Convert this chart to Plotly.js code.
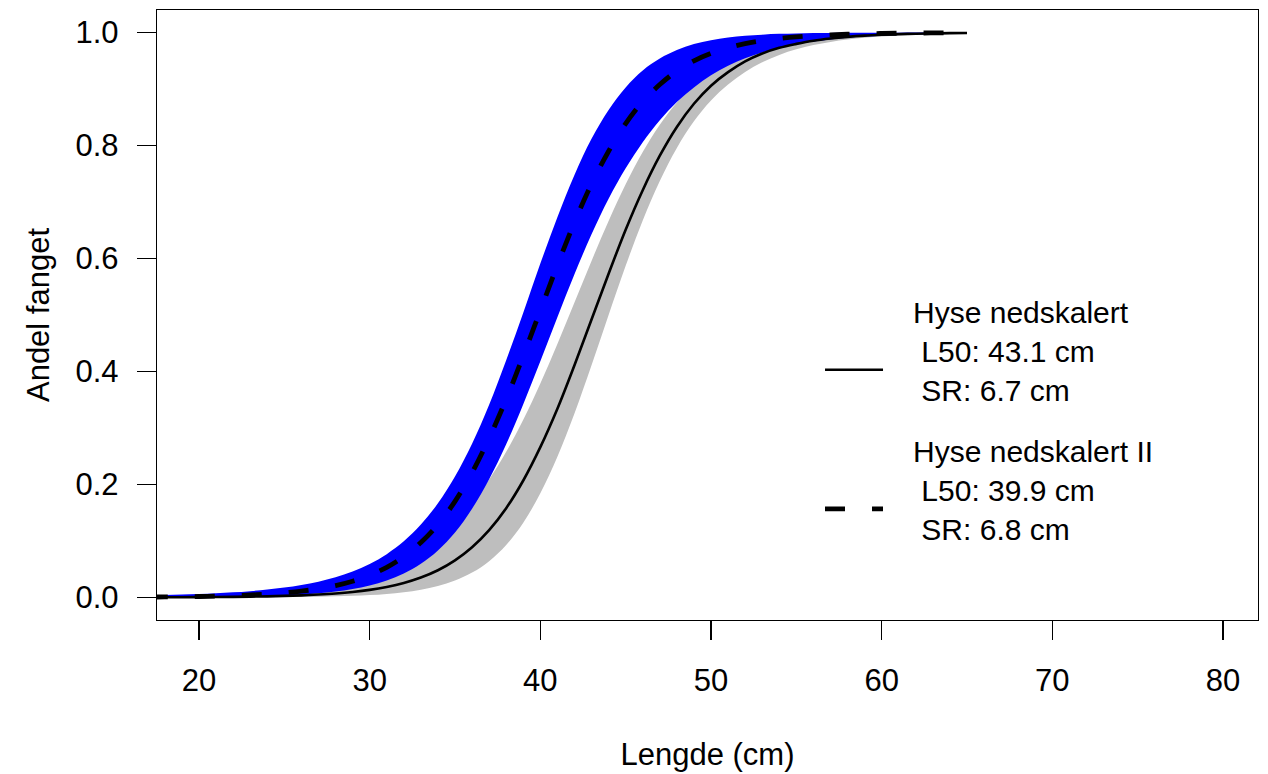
<!DOCTYPE html>
<html>
<head>
<meta charset="utf-8">
<script src="https://cdn.plot.ly/plotly-3.0.1.min.js"></script>
<style>html,body{margin:0;padding:0;background:#fff;}#chart{width:1268px;height:774px;}</style>
</head>
<body>
<div id="chart"></div>
<script>
// Length classes (cm)
var lengths = [17,18,19,20,21,22,23,24,25,26,27,28,29,30,31,32,33,34,35,36,37,38,39,40,41,42,43,44,45,46,47,48,49,50,51,52,53,54,55,56,57,58,59,60,61,62,63,64,65];

// Hyse nedskalert (solid) and its grey band
var solidCurve = [0.00019,0.00027,0.00037,0.00051,0.00071,0.00099,0.00137,0.0019,0.00263,0.00366,0.00507,0.00702,0.00972,0.0134,0.0186,0.0256,0.0352,0.0481,0.0656,0.0888,0.1192,0.158,0.207,0.266,0.334,0.411,0.492,0.573,0.651,0.721,0.782,0.833,0.874,0.906,0.930,0.949,0.963,0.973,0.980,0.9857,0.9896,0.9925,0.9946,0.9961,0.9972,0.9980,0.9985,0.9990,0.9992];
var grayUpper = [0.00313,0.00373,0.00446,0.00536,0.00646,0.00783,0.00954,0.0117,0.0143,0.0177,0.0219,0.0273,0.0341,0.0427,0.0536,0.0674,0.0848,0.1068,0.1341,0.1678,0.2089,0.2577,0.3146,0.3787,0.4487,0.5222,0.5958,0.6664,0.7313,0.7884,0.8367,0.8763,0.9078,0.9322,0.9507,0.9646,0.9748,0.9821,0.9875,0.9913,0.9939,0.9958,0.9971,0.9980,0.9987,0.9991,0.9994,0.9996,0.9997];
var grayLower = [0.000023,0.000034,0.000051,0.000076,0.000114,0.00017,0.000253,0.000378,0.000564,0.00084,0.00125,0.00187,0.00279,0.00416,0.00618,0.00919,0.0137,0.0202,0.0299,0.0439,0.0642,0.0928,0.1324,0.1842,0.2490,0.3256,0.4110,0.5000,0.5871,0.6673,0.7373,0.7958,0.8429,0.8798,0.9080,0.9302,0.9474,0.9605,0.9704,0.9779,0.9835,0.9877,0.9909,0.9932,0.9950,0.9963,0.9972,0.9980,0.9985];

// Hyse nedskalert II (dashed) and its blue band
var dashedCurve = [0.00061,0.00085,0.00117,0.00161,0.00222,0.00307,0.00423,0.00583,0.00804,0.0111,0.0152,0.0209,0.0287,0.0392,0.0533,0.0722,0.0971,0.129,0.170,0.221,0.282,0.351,0.428,0.508,0.588,0.664,0.732,0.790,0.839,0.878,0.908,0.932,0.950,0.9632,0.9731,0.9804,0.9857,0.9896,0.9925,0.9945,0.9960,0.9971,0.9979,0.9985,0.9989,0.9992,0.9994,0.9996,0.9997];
var blueUpper = [0.00352,0.00419,0.00501,0.00604,0.00736,0.00902,0.0111,0.0139,0.0174,0.0220,0.0279,0.0357,0.0458,0.0590,0.0766,0.0993,0.1289,0.1666,0.214,0.272,0.341,0.420,0.504,0.591,0.673,0.748,0.812,0.863,0.903,0.933,0.954,0.969,0.9796,0.9866,0.9913,0.9944,0.9964,0.9978,0.9986,0.9991,0.9995,0.9997,0.9998,0.9999,0.9999,1.0,1.0,1.0,1.0];
var blueLower = [0.0002,0.000286,0.00041,0.000586,0.00084,0.0012,0.00172,0.00247,0.00354,0.00506,0.00724,0.0103,0.0148,0.0210,0.0299,0.0423,0.0595,0.0831,0.1149,0.157,0.209,0.271,0.342,0.418,0.496,0.572,0.643,0.706,0.760,0.806,0.845,0.877,0.903,0.9244,0.9413,0.9545,0.9649,0.9730,0.9792,0.9841,0.9878,0.9907,0.9929,0.9945,0.9958,0.9968,0.9976,0.9981,0.9986];

var xTicks = [20,30,40,50,60,70,80];
var yTicks = [0,0.2,0.4,0.6,0.8,1.0];
var yTickLabels = ['0.0','0.2','0.4','0.6','0.8','1.0'];
var NB = '\u00a0';
var legendNames = [
  NB+NB+NB+'Hyse nedskalert<br>'+NB+NB+NB+NB+'L50: 43.1 cm<br>'+NB+NB+NB+NB+'SR: 6.7 cm<br>'+NB,
  NB+NB+NB+'Hyse nedskalert II<br>'+NB+NB+NB+NB+'L50: 39.9 cm<br>'+NB+NB+NB+NB+'SR: 6.8 cm<br>'+NB
];

var FONT = 'Liberation Sans, Arial, Helvetica, sans-serif';
var FS = 31;
var LFS = 30;

var traces = [
  {x: lengths, y: grayLower, mode: 'lines', line: {width: 0, shape: 'spline'}, showlegend: false, hoverinfo: 'skip'},
  {x: lengths, y: grayUpper, mode: 'lines', line: {width: 0, shape: 'spline'}, fill: 'tonexty', fillcolor: '#BEBEBE', showlegend: false, hoverinfo: 'skip'},
  {x: lengths, y: blueLower, mode: 'lines', line: {width: 0, shape: 'spline'}, showlegend: false, hoverinfo: 'skip'},
  {x: lengths, y: blueUpper, mode: 'lines', line: {width: 0, shape: 'spline'}, fill: 'tonexty', fillcolor: '#0000FF', showlegend: false, hoverinfo: 'skip'},
  {x: lengths, y: solidCurve, mode: 'lines', name: legendNames[0], legend: 'legend', line: {color: '#000', width: 2.6, shape: 'spline'}},
  {x: lengths, y: dashedCurve, mode: 'lines', name: legendNames[1], legend: 'legend2', line: {color: '#000', width: 4.8, dash: '20px,27px', shape: 'spline'}}
];

function legendBox(yPos) {
  return {x: 0.6022, y: yPos, xanchor: 'left', yanchor: 'top', bgcolor: 'rgba(0,0,0,0)', borderwidth: 0,
          font: {family: FONT, size: LFS, color: '#000'}, itemwidth: 58, valign: 'middle'};
}

var layout = {
  width: 1268, height: 774, autosize: false,
  margin: {l: 157, r: 10, t: 10, b: 154, pad: 0},
  paper_bgcolor: '#fff', plot_bgcolor: '#fff',
  font: {family: FONT, size: FS, color: '#000'},
  showlegend: true,
  legend: legendBox(0.5487),
  legend2: legendBox(0.3208),
  xaxis: {range: [17.54, 82.05], tickmode: 'array', tickvals: xTicks, ticks: 'outside', ticklen: 19, tickwidth: 1.3, tickcolor: '#000',
          showline: true, mirror: true, linecolor: '#000', linewidth: 1.3, showgrid: false, zeroline: false,
          tickfont: {family: FONT, size: FS}, ticklabelstandoff: 13,
          title: {text: 'Lengde (cm)', font: {family: FONT, size: FS}, standoff: 46}, automargin: false},
  yaxis: {range: [-0.04, 1.04], tickmode: 'array', tickvals: yTicks, ticktext: yTickLabels, ticks: 'outside', ticklen: 19, tickwidth: 1.3, tickcolor: '#000',
          showline: true, mirror: true, linecolor: '#000', linewidth: 1.3, showgrid: false, zeroline: false,
          tickfont: {family: FONT, size: FS}, ticklabelstandoff: 12,
          title: {text: 'Andel fanget', font: {family: FONT, size: FS}, standoff: 16}, automargin: false}
};

Plotly.newPlot('chart', traces, layout, {displayModeBar: false, staticPlot: true});
</script>
</body>
</html>
